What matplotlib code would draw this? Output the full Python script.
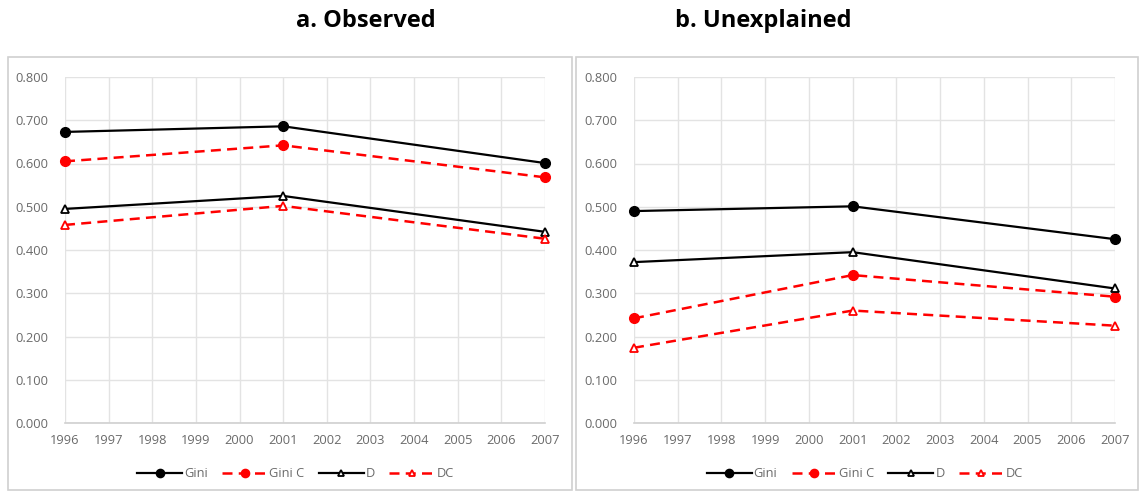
import matplotlib
matplotlib.use("Agg")
import matplotlib.pyplot as plt
from matplotlib.patches import Rectangle

# Survey years with observations and the full year axis
years = [1996, 2001, 2007]
axis_years = list(range(1996, 2008))
y_ticks = [0.0, 0.1, 0.2, 0.3, 0.4, 0.5, 0.6, 0.7, 0.8]

# a. Observed
obs_gini = [0.673, 0.686, 0.601]
obs_gini_c = [0.605, 0.642, 0.568]
obs_d = [0.495, 0.525, 0.442]
obs_dc = [0.458, 0.502, 0.426]

# b. Unexplained
unx_gini = [0.490, 0.501, 0.425]
unx_gini_c = [0.242, 0.342, 0.292]
unx_d = [0.372, 0.395, 0.311]
unx_dc = [0.174, 0.260, 0.225]

series_names = ["Gini", "Gini C", "D", "DC"]

plt.rcParams["font.family"] = ["Open Sans", "DejaVu Sans"]

fig = plt.figure(figsize=(11.39, 4.93), dpi=100)
W, H = 1139, 493

# panel frames
for x0, x1 in [(8, 572), (576, 1138)]:
    fig.patches.append(Rectangle((x0 / W, 1 - 490 / H), (x1 - x0) / W, (490 - 57) / H,
                                 transform=fig.transFigure, fill=False,
                                 edgecolor="#d0d0d0", linewidth=1.2))

TICK_C = "#6a6a6a"
GRID_C = "#e3e3e3"


def draw_panel(ax, gini, gini_c, d, dc, title, title_x):
    styles = [
        dict(color="black", ls="-", lw=1.6, marker="o", ms=7, mfc="black", mec="black"),
        dict(color="red", ls=(0, (4, 2.5)), lw=1.8, marker="o", ms=7, mfc="red", mec="red"),
        dict(color="black", ls="-", lw=1.6, marker="^", ms=5.5, mfc="white", mec="black", mew=1.3),
        dict(color="red", ls=(0, (4, 2.5)), lw=1.8, marker="^", ms=5.5, mfc="white", mec="red", mew=1.3),
    ]
    for vals, name, st in zip([gini, gini_c, d, dc], series_names, styles):
        ax.plot(years, vals, label=name, clip_on=False, zorder=3, **st)
    ax.set_xlim(1996, 2007)
    ax.set_ylim(0, 0.8)
    ax.set_xticks(axis_years)
    ax.set_xticklabels([str(y) for y in axis_years])
    ax.set_yticks(y_ticks)
    ax.set_yticklabels([f"{v:.3f}" for v in y_ticks])
    ax.grid(True, color=GRID_C, lw=1.0)
    ax.set_axisbelow(True)
    for s in ["top", "right", "left"]:
        ax.spines[s].set_visible(False)
    ax.spines["bottom"].set_color("#d0d0d0")
    ax.spines["bottom"].set_linewidth(1.2)
    ax.tick_params(axis="both", length=0, labelsize=9.3, labelcolor=TICK_C)
    ax.tick_params(axis="y", pad=12)
    ax.tick_params(axis="x", pad=8)
    leg = ax.legend(loc="upper center", bbox_to_anchor=(0.48, -0.095), ncol=4,
                    frameon=False, fontsize=9.3, handlelength=3.5, handletextpad=0.15,
                    columnspacing=1.1, markerscale=0.85)
    for t in leg.get_texts():
        t.set_color(TICK_C)
    fig.text(title_x / W, 1 - 21 / H, title, ha="center", va="center",
             fontsize=17, fontweight="bold", color="black")


ax1 = fig.add_axes([65 / W, 1 - 423 / H, 480 / W, 346 / H])
draw_panel(ax1, obs_gini, obs_gini_c, obs_d, obs_dc, "a. Observed", 366)

ax2 = fig.add_axes([634 / W, 1 - 423 / H, 481 / W, 346 / H])
draw_panel(ax2, unx_gini, unx_gini_c, unx_d, unx_dc, "b. Unexplained", 763)

fig.savefig("out.png", dpi=100)
